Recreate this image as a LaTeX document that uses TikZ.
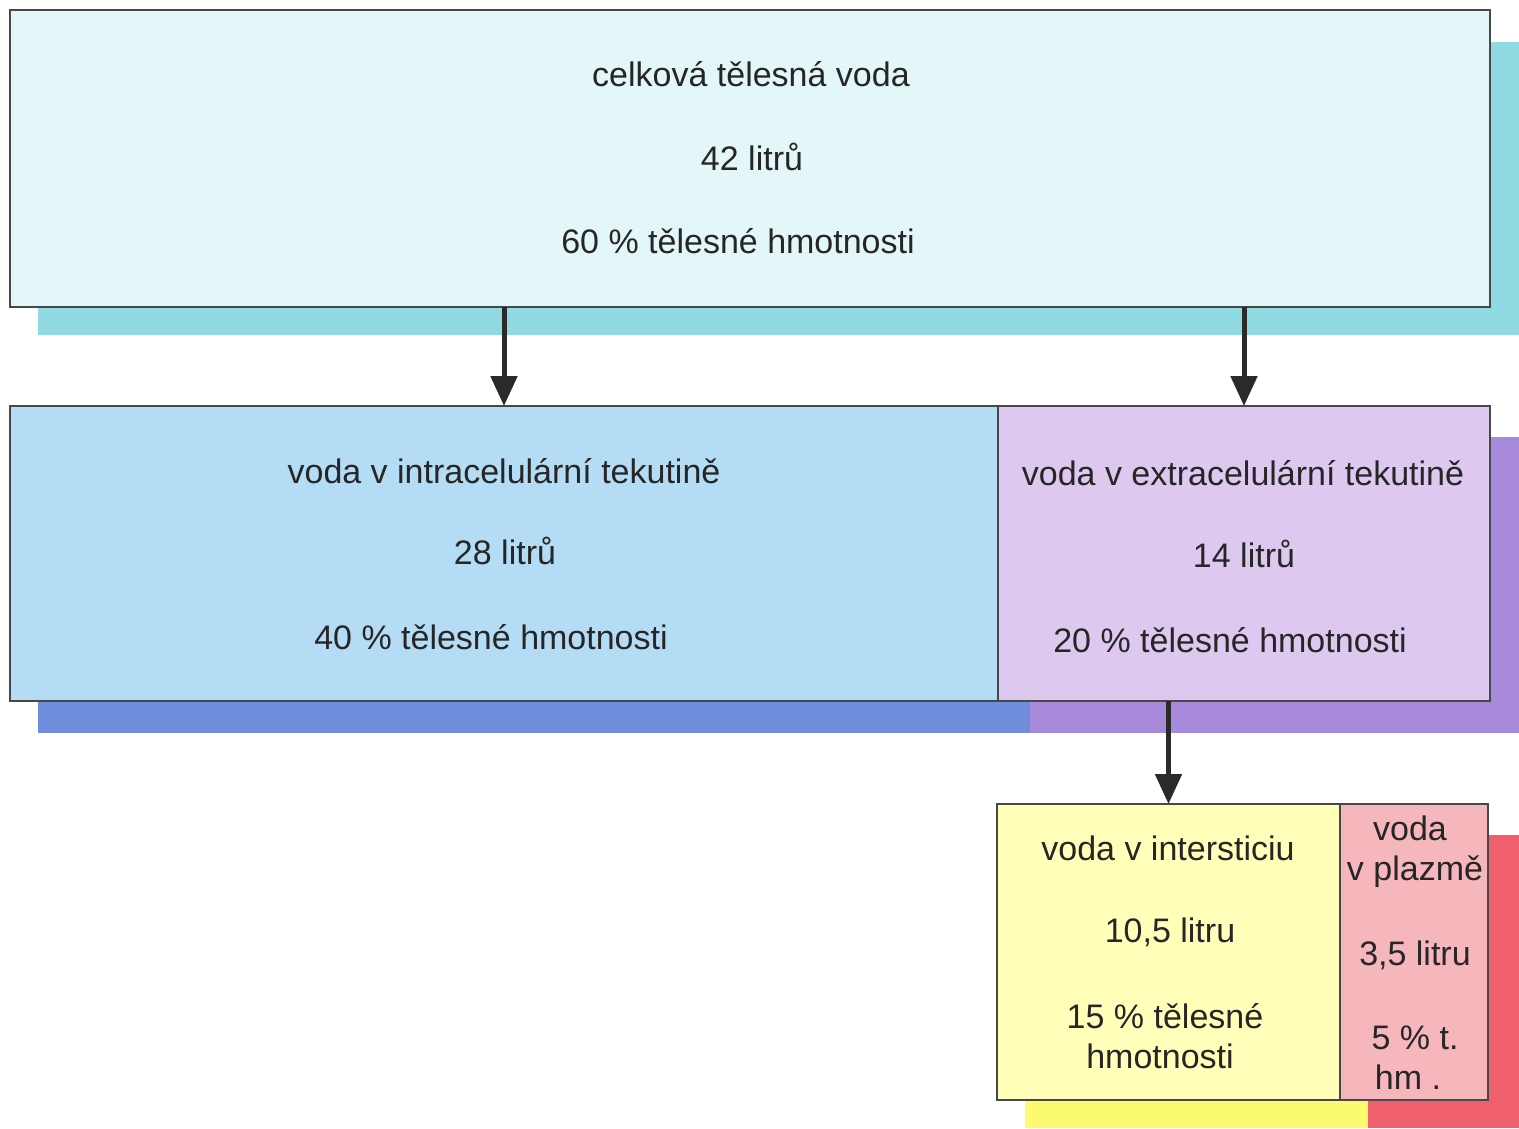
\documentclass[tikz,border=0pt]{standalone}
\usepackage{fontspec}
\setmainfont{Liberation Sans}
\usetikzlibrary{arrows.meta}
\definecolor{topfill}{HTML}{E3F6F8}
\definecolor{topsh}{HTML}{8FDBE1}
\definecolor{icfill}{HTML}{B4DCF5}
\definecolor{icsh}{HTML}{6E8EDB}
\definecolor{ecfill}{HTML}{DDC9EF}
\definecolor{ecsh}{HTML}{A78AD9}
\definecolor{isffill}{HTML}{FFFFBA}
\definecolor{isfsh}{HTML}{FCFA6E}
\definecolor{plfill}{HTML}{F5B6BC}
\definecolor{plsh}{HTML}{EF5F6C}
\definecolor{boxline}{HTML}{484848}
\definecolor{txt}{HTML}{262626}
\definecolor{arrowc}{HTML}{2A2A2A}
\begin{document}
\begin{tikzpicture}[x=1pt,y=-1pt,
  box/.style={rectangle, draw=boxline, line width=1.6pt, inner sep=0pt, outer sep=0pt},
  shbox/.style={rectangle, draw=none, inner sep=0pt, outer sep=0pt},
  lbl/.style={anchor=base, inner sep=0pt, outer sep=0pt, text=txt, font=\fontsize{34}{40}\selectfont},
  arr/.style={line width=5pt, draw=arrowc, -{Triangle[width=26pt,length=30pt]}}]
\fill[white] (0,0) rectangle (1519,1128);
\useasboundingbox (0,0) rectangle (1519,1128);
% shadows
\node[shbox, fill=topsh, minimum width=1481pt, minimum height=293pt] (topshadow) at (778.5,188.5) {};
\node[shbox, fill=icsh, minimum width=992pt, minimum height=296pt] (icshadow) at (534,585) {};
\node[shbox, fill=ecsh, minimum width=489pt, minimum height=296pt] (ecshadow) at (1274.5,585) {};
\node[shbox, fill=isfsh, minimum width=343pt, minimum height=293pt] (isfshadow) at (1196.5,981.5) {};
\node[shbox, fill=plsh, minimum width=151pt, minimum height=293pt] (plshadow) at (1443.5,981.5) {};
% boxes
\node[box, fill=topfill, minimum width=1480pt, minimum height=297pt] (top) at (750,158.5) {};
\node[box, fill=icfill, minimum width=988pt, minimum height=295pt] (ic) at (504,553.5) {};
\node[box, fill=ecfill, minimum width=492pt, minimum height=295pt] (ec) at (1244,553.5) {};
\node[box, fill=isffill, minimum width=343pt, minimum height=296pt] (isf) at (1168.5,952) {};
\node[box, fill=plfill, minimum width=148pt, minimum height=296pt] (pl) at (1414,952) {};
% labels
\node[lbl] (t1) at (751,86) {celková tělesná voda};
\node[lbl] (t2) at (752,170) {42 litrů};
\node[lbl] (t3) at (738,253) {60 \% tělesné hmotnosti};
\node[lbl] (i1) at (504,483) {voda v intracelulární tekutině};
\node[lbl] (i2) at (505,564) {28 litrů};
\node[lbl] (i3) at (491,649) {40 \% tělesné hmotnosti};
\node[lbl] (e1) at (1243,485) {voda v extracelulární tekutině};
\node[lbl] (e2) at (1244,567) {14 litrů};
\node[lbl] (e3) at (1230,652) {20 \% tělesné hmotnosti};
\node[lbl] (s1) at (1168,860) {voda v intersticiu};
\node[lbl] (s2) at (1170,942) {10,5 litru};
\node[lbl] (s3) at (1165,1028) {15 \% tělesné};
\node[lbl] (s4) at (1160,1068) {hmotnosti};
\node[lbl] (p1) at (1410,840) {voda};
\node[lbl] (p2) at (1415,880) {v plazmě};
\node[lbl] (p3) at (1415,965) {3,5 litru};
\node[lbl] (p4) at (1415,1049) {5 \% t.};
\node[lbl] (p5) at (1408,1089) {hm .};
% arrows
\draw[arr] (top.south -| ic.north) -- (ic.north);
\draw[arr] (top.south -| ec.north) -- (ec.north);
\draw[arr] (ec.south -| isf.north) -- (isf.north);
\end{tikzpicture}
\end{document}
